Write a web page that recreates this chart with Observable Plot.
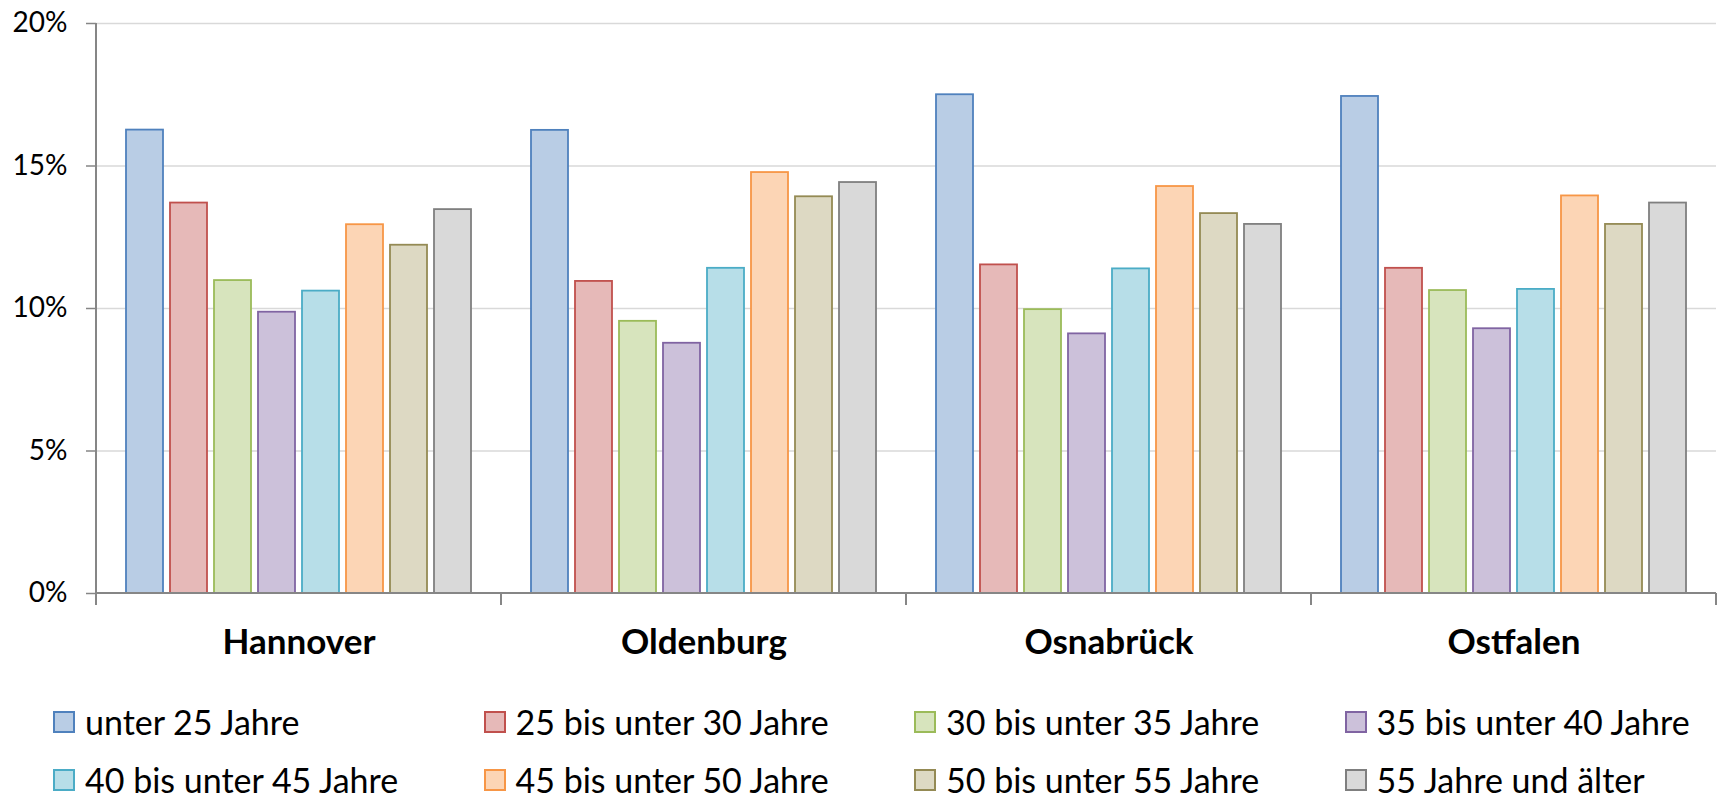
<!DOCTYPE html>
<html><head><meta charset="utf-8">
<script src="https://cdn.jsdelivr.net/npm/d3@7"></script>
<script src="https://cdn.jsdelivr.net/npm/@observablehq/plot@0.6"></script>
<style>
body{margin:0;background:#fff;font-family:Lato,sans-serif;overflow:hidden;}
#legend{display:grid;grid-template-columns:repeat(4,430.5px);padding-left:53px;}
.item{height:58px;display:flex;align-items:center;font-size:34px;line-height:40px;color:#000;white-space:nowrap;}
.sw{width:18px;height:18px;border:2px solid;margin-right:10px;box-sizing:content-box;flex:none}
</style></head><body><div id="chart"></div><div id="legend"></div>
<script>
const regions = ["Hannover", "Oldenburg", "Osnabrück", "Ostfalen"];
const ageGroups = ["unter 25 Jahre", "25 bis unter 30 Jahre", "30 bis unter 35 Jahre", "35 bis unter 40 Jahre",
  "40 bis unter 45 Jahre", "45 bis unter 50 Jahre", "50 bis unter 55 Jahre", "55 Jahre und älter"];
const hannover   = [16.26, 13.70, 10.98, 9.87, 10.61, 12.94, 12.22, 13.47];
const oldenburg  = [16.25, 10.95, 9.55, 8.78, 11.41, 14.77, 13.92, 14.42];
const osnabrueck = [17.50, 11.53, 9.96, 9.11, 11.39, 14.28, 13.33, 12.95];
const ostfalen   = [17.44, 11.41, 10.63, 9.29, 10.67, 13.95, 12.95, 13.70];
const yTicks = [0, 5, 10, 15, 20];

const fills   = ["#b9cde5", "#e6b9b8", "#d7e4bd", "#ccc1da", "#b7dee8", "#fcd5b5", "#ddd9c3", "#d9d9d9"];
const strokes = ["#4f81bd", "#c0504d", "#9bbb59", "#8064a2", "#4bacc6", "#f79646", "#948a54", "#7f7f7f"];

const seriesByRegion = [hannover, oldenburg, osnabrueck, ostfalen];
const data = regions.flatMap((r, i) => ageGroups.map((a, j) => ({region: r, age: a, value: seriesByRegion[i][j]})));
const fillOf = new Map(ageGroups.map((a, j) => [a, fills[j]]));
const strokeOf = new Map(ageGroups.map((a, j) => [a, strokes[j]]));
const axisGray = "#868686";

const plot = Plot.plot({
  width: 1723,
  height: 693,
  marginLeft: 96,
  marginRight: 7,
  marginTop: 23,
  marginBottom: 100,
  style: {fontFamily: "Lato, sans-serif", background: "white", color: "black", overflow: "visible"},
  fx: {domain: regions, padding: 0, label: null, axis: null},
  x: {domain: ageGroups, paddingInner: 0.15, paddingOuter: 0.625, axis: null},
  y: {domain: [0, 20], label: null, axis: null},
  color: {type: "identity"},
  marks: [
    Plot.gridY(yTicks.slice(1), {stroke: "#d9d9d9", strokeOpacity: 1, strokeWidth: 1.5}),
    Plot.barY(data, {fx: "region", x: "age", y: "value",
      fill: d => fillOf.get(d.age), stroke: d => strokeOf.get(d.age), strokeWidth: 1.8}),
    Plot.axisY(yTicks, {tickFormat: d => d + "%", fontSize: 28, tickSize: 10, tickPadding: 19,
      stroke: axisGray, strokeWidth: 1.5, label: null}),
    Plot.axisFx({anchor: "bottom", tickSize: 0, tickPadding: 36, fontSize: 35, fontWeight: "bold", label: null})
  ]
});
document.getElementById("chart").appendChild(plot);

// axis lines and category boundary ticks, positioned through Plot's own scales
const fx = plot.scale("fx"), y = plot.scale("y");
const y0 = y.apply(0), yTop = y.apply(20);
const xStart = fx.range[0], xEnd = fx.range[1];
const g = d3.select(plot).append("g").attr("stroke", axisGray).attr("stroke-width", 2);
g.append("line").attr("x1", xStart).attr("x2", xStart).attr("y1", yTop).attr("y2", y0 + 12);
g.append("line").attr("x1", xStart).attr("x2", xEnd).attr("y1", y0).attr("y2", y0);
const bounds = regions.map(r => fx.apply(r)).concat([xEnd]);
g.selectAll(".bt").data(bounds).join("line")
  .attr("x1", d => d).attr("x2", d => d).attr("y1", y0).attr("y2", y0 + 12);

const legend = d3.select("#legend");
ageGroups.forEach((a, j) => {
  const it = legend.append("div").attr("class", "item");
  it.append("div").attr("class", "sw").style("background", fills[j]).style("border-color", strokes[j]);
  it.append("span").text(a);
});
</script></body></html>
